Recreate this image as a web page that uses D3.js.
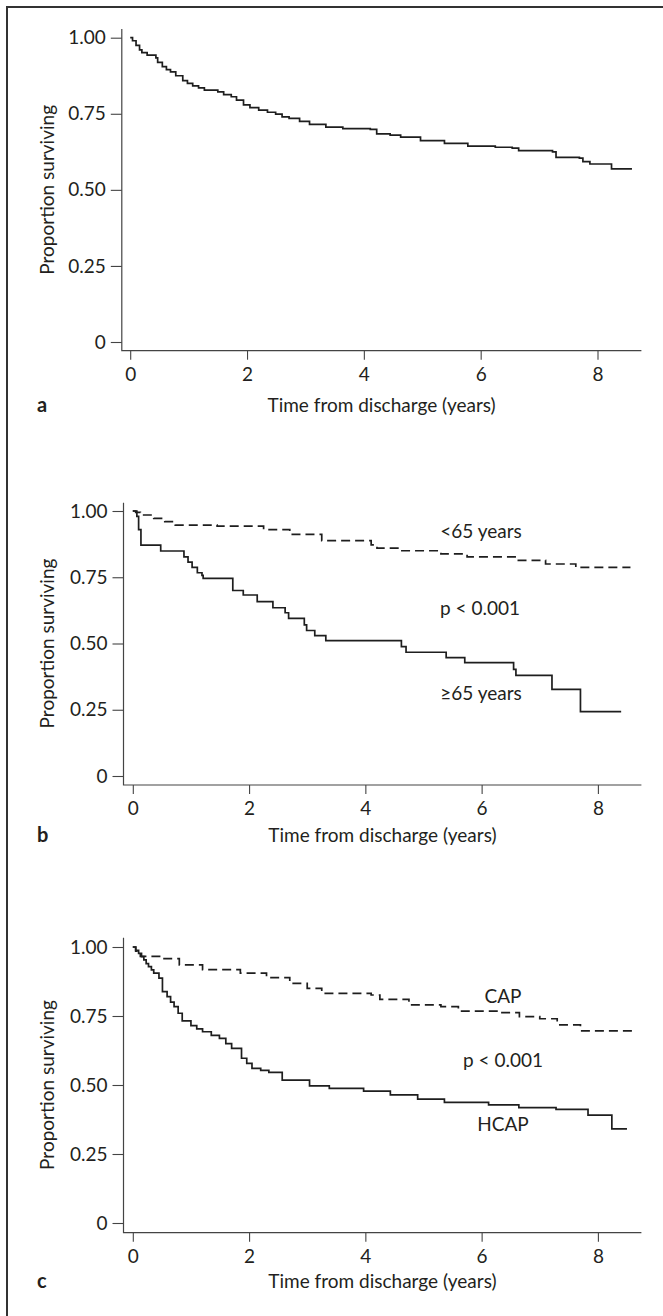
<!DOCTYPE html>
<html>
<head>
<meta charset="utf-8">
<script src="https://cdn.jsdelivr.net/npm/d3@7"></script>
<style>
  body { margin: 0; background: #fff; }
  svg { display: block; }
  text { font-family: Lato, "Open Sans", sans-serif; fill: #231f20; }
</style>
</head>
<body>
<div id="chart"></div>
<script>
const xTicks = [0, 2, 4, 6, 8];
const yTicks = [0, 0.25, 0.5, 0.75, 1];
const yTickLabels = ["0", "0.25", "0.50", "0.75", "1.00"];
const xTitle = "Time from discharge (years)";
const yTitle = "Proportion surviving";

// panel a - all patients
const timeAll = [0, 0.04, 0.1, 0.16, 0.2, 0.29, 0.44, 0.47, 0.55, 0.62, 0.69, 0.78, 0.9, 0.98, 1.07, 1.17,
  1.27, 1.5, 1.6, 1.73, 1.82, 1.94, 2.05, 2.2, 2.35, 2.49, 2.6, 2.72, 2.9, 3.07, 3.35, 3.64, 4.11, 4.22,
  4.45, 4.63, 4.97, 5.38, 5.78, 6.25, 6.54, 6.65, 7.23, 7.29, 7.69, 7.75, 7.87, 8.24, 8.59];
const survAll = [1, 0.99, 0.975, 0.96, 0.951, 0.943, 0.934, 0.919, 0.905, 0.895, 0.888, 0.875, 0.859, 0.85,
  0.842, 0.835, 0.828, 0.822, 0.813, 0.806, 0.795, 0.779, 0.77, 0.762, 0.755, 0.749, 0.74, 0.735, 0.725,
  0.715, 0.706, 0.701, 0.699, 0.684, 0.68, 0.673, 0.662, 0.653, 0.644, 0.64, 0.637, 0.629, 0.625, 0.607,
  0.604, 0.593, 0.585, 0.569, 0.569];

// panel b - by age
const timeUnder65 = [0, 0.05, 0.13, 0.36, 0.55, 0.73, 1.45, 2.25, 2.7, 3.25, 4.1, 4.2, 4.6, 5.3, 5.75,
  6.6, 7.1, 7.62, 8.56];
const survUnder65 = [1, 0.995, 0.985, 0.972, 0.96, 0.947, 0.943, 0.93, 0.912, 0.888, 0.872, 0.86, 0.85,
  0.838, 0.827, 0.814, 0.8, 0.787, 0.787];
const timeOver65 = [0, 0.07, 0.1, 0.14, 0.48, 0.88, 0.95, 1.02, 1.11, 1.19, 1.21, 1.72, 1.9, 2.14, 2.41,
  2.62, 2.68, 2.95, 2.99, 3.13, 3.32, 4.62, 4.7, 5.39, 5.71, 6.55, 6.59, 7.21, 7.7, 8.4];
const survOver65 = [1, 0.98, 0.93, 0.871, 0.849, 0.827, 0.807, 0.787, 0.767, 0.757, 0.746, 0.7, 0.683,
  0.658, 0.635, 0.616, 0.595, 0.57, 0.549, 0.53, 0.511, 0.488, 0.467, 0.447, 0.428, 0.402, 0.38, 0.327,
  0.243, 0.243];

// panel c - CAP vs HCAP
const timeCAP = [0, 0.05, 0.13, 0.5, 0.8, 1.2, 1.85, 2.3, 2.7, 3.0, 3.25, 4.1, 4.25, 4.75, 5.3, 5.6, 6.3,
  6.65, 7.0, 7.3, 7.7, 8.59];
const survCAP = [1, 0.985, 0.966, 0.958, 0.935, 0.918, 0.905, 0.889, 0.868, 0.85, 0.832, 0.826, 0.81,
  0.79, 0.784, 0.768, 0.762, 0.748, 0.74, 0.718, 0.696, 0.696];
const timeHCAP = [0, 0.05, 0.1, 0.15, 0.19, 0.23, 0.27, 0.32, 0.36, 0.45, 0.51, 0.59, 0.65, 0.71, 0.78,
  0.85, 1.0, 1.1, 1.2, 1.35, 1.49, 1.6, 1.7, 1.87, 1.96, 2.05, 2.2, 2.34, 2.57, 3.04, 3.38, 3.97, 4.43, 4.9,
  5.36, 6.12, 6.64, 7.28, 7.83, 8.24, 8.5];
const survHCAP = [1, 0.988, 0.977, 0.965, 0.953, 0.94, 0.929, 0.917, 0.905, 0.887, 0.838, 0.82, 0.8,
  0.784, 0.76, 0.732, 0.715, 0.703, 0.693, 0.68, 0.669, 0.65, 0.633, 0.597, 0.578, 0.56, 0.553, 0.546,
  0.518, 0.497, 0.488, 0.478, 0.464, 0.449, 0.437, 0.428, 0.418, 0.412, 0.391, 0.341, 0.341];

const W = 663, H = 1316;

const panels = [
  {
    letter: "a", x0: 130.2, x8: 597.5, y1: 37.7, y0: 342, axisX: 121.8, axisY: 350.7, axisTop: 29,
    titleY: 411.5,
    series: [{ t: timeAll, s: survAll, dash: null }],
    notes: []
  },
  {
    letter: "b", x0: 132.8, x8: 597.9, y1: 511, y0: 776, axisX: 123.5, axisY: 785, axisTop: 502.7,
    titleY: 841.7,
    series: [{ t: timeUnder65, s: survUnder65, dash: "9,5" }, { t: timeOver65, s: survOver65, dash: null }],
    notes: [{ text: "<65 years", x: 481, y: 538 }, { text: "p < 0.001", x: 480, y: 614.5 },
            { text: "\u226565 years", x: 481, y: 700 }]
  },
  {
    letter: "c", x0: 132.8, x8: 597.9, y1: 947, y0: 1223, axisX: 123.5, axisY: 1232.7, axisTop: 937.7,
    titleY: 1287.7,
    series: [{ t: timeCAP, s: survCAP, dash: "9,5" }, { t: timeHCAP, s: survHCAP, dash: null }],
    notes: [{ text: "CAP", x: 503, y: 1003 }, { text: "p < 0.001", x: 503, y: 1066.7 },
            { text: "HCAP", x: 503, y: 1131 }]
  }
];

const svg = d3.select("#chart").append("svg")
  .attr("width", W)
  .attr("height", H);

// figure frame (top and left edges only)
svg.append("line").attr("x1", 6).attr("x2", W).attr("y1", 7).attr("y2", 7)
  .attr("stroke", "#333").attr("stroke-width", 2);
svg.append("line").attr("x1", 7).attr("x2", 7).attr("y1", 6).attr("y2", H)
  .attr("stroke", "#333").attr("stroke-width", 2);

const AXIS_RIGHT = 641.4;
const FONT = 19;

panels.forEach((p) => {
  const x = d3.scaleLinear().domain([0, 8]).range([p.x0, p.x8]);
  const y = d3.scaleLinear().domain([0, 1]).range([p.y0, p.y1]);
  const g = svg.append("g");

  // y axis
  const yAxis = g.append("g")
    .attr("transform", `translate(${p.axisX},0)`)
    .call(d3.axisLeft(y).tickValues(yTicks).tickSize(11).tickPadding(5)
      .tickFormat((d, i) => yTickLabels[i]));
  yAxis.select(".domain").remove();

  // x axis
  const xAxis = g.append("g")
    .attr("transform", `translate(0,${p.axisY})`)
    .call(d3.axisBottom(x).tickValues(xTicks).tickSize(9).tickPadding(8).tickFormat(d3.format("d")));
  xAxis.select(".domain").remove();

  [yAxis, xAxis].forEach((a) => {
    a.selectAll(".tick line").attr("stroke", "#444").attr("stroke-width", 1.1);
    a.selectAll(".tick text").style("font-family", "Lato, 'Open Sans', sans-serif")
      .style("font-size", FONT + "px").attr("fill", "#231f20");
  });

  // L-shaped axis lines
  g.append("path")
    .attr("d", `M${p.axisX},${p.axisTop}V${p.axisY}H${AXIS_RIGHT}`)
    .attr("fill", "none").attr("stroke", "#444").attr("stroke-width", 1.2);

  // survival curves
  const line = d3.line()
    .x((d) => x(d[0]))
    .y((d) => y(d[1]))
    .curve(d3.curveStepAfter);

  p.series.forEach((s) => {
    const pts = s.t.map((t, i) => [t, s.s[i]]);
    g.append("path")
      .attr("d", line(pts))
      .attr("fill", "none")
      .attr("stroke", "#1e1e1e")
      .attr("stroke-width", 1.7)
      .attr("stroke-dasharray", s.dash);
  });

  // annotations
  p.notes.forEach((n) => {
    g.append("text")
      .attr("x", n.x).attr("y", n.y)
      .attr("text-anchor", "middle")
      .style("font-size", FONT + "px")
      .text(n.text);
  });

  // axis titles
  g.append("text")
    .attr("x", (p.axisX + AXIS_RIGHT) / 2)
    .attr("y", p.titleY)
    .attr("text-anchor", "middle")
    .style("font-size", FONT + "px")
    .text(xTitle);

  g.append("text")
    .attr("transform", `translate(54,${(p.y0 + p.y1) / 2}) rotate(-90)`)
    .attr("text-anchor", "middle")
    .style("font-size", FONT + "px")
    .text(yTitle);

  // panel letter
  g.append("text")
    .attr("x", 37)
    .attr("y", p.titleY)
    .style("font-size", "20px")
    .style("font-weight", "bold")
    .text(p.letter);
});
</script>
</body>
</html>
